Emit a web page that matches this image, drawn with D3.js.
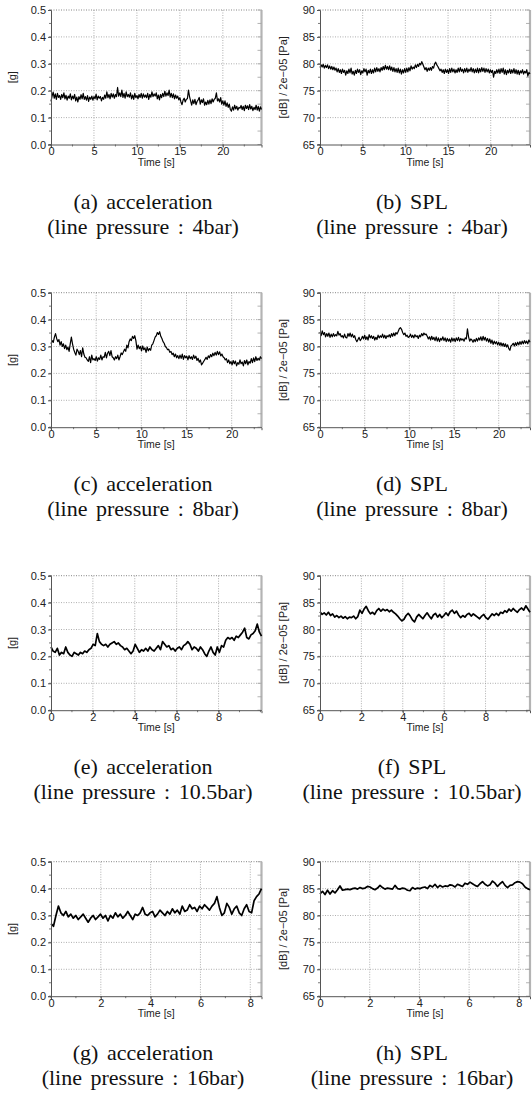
<!DOCTYPE html>
<html><head><meta charset="utf-8">
<script src="https://cdn.jsdelivr.net/npm/d3@7"></script>
<style>body{margin:0;background:#fff}svg{display:block}</style>
</head><body><svg id="c" width="532" height="1108"></svg>
<script>
// ---------------- data ----------------
const accel4 = [0.16,0.18,0.195,0.172,0.188,0.168,0.19,0.175,0.182,
 0.168,0.186,0.174,0.192,0.17,0.183,0.165,0.18,
 0.172,0.188,0.166,0.18,0.17,0.186,0.162,0.176,
 0.158,0.178,0.168,0.185,0.17,0.19,0.168,0.178,
 0.165,0.182,0.16,0.176,0.168,0.18,0.165,0.178,
 0.17,0.187,0.166,0.18,0.172,0.178,0.162,0.175,
 0.168,0.184,0.172,0.196,0.174,0.186,0.17,0.19,
 0.176,0.188,0.172,0.186,0.178,0.212,0.18,0.192,
 0.178,0.202,0.175,0.19,0.172,0.196,0.178,0.186,
 0.176,0.192,0.17,0.184,0.168,0.19,0.174,0.182,
 0.17,0.186,0.175,0.19,0.172,0.188,0.176,0.184,
 0.174,0.19,0.168,0.186,0.176,0.196,0.178,0.188,
 0.18,0.192,0.17,0.184,0.166,0.186,0.174,0.19,
 0.178,0.198,0.18,0.192,0.182,0.202,0.176,0.19,
 0.174,0.188,0.17,0.184,0.172,0.18,0.166,0.174,
 0.158,0.148,0.165,0.172,0.158,0.168,0.17,0.202,
 0.178,0.162,0.146,0.166,0.152,0.168,0.148,0.16,
 0.166,0.175,0.15,0.166,0.156,0.17,0.146,0.158,
 0.148,0.164,0.15,0.166,0.152,0.17,0.158,0.168,
 0.172,0.192,0.162,0.17,0.158,0.174,0.15,0.162,
 0.146,0.162,0.142,0.155,0.138,0.15,0.13,0.124,
 0.14,0.128,0.146,0.132,0.142,0.128,0.138,0.135,
 0.145,0.13,0.142,0.126,0.146,0.134,0.144,0.13,
 0.148,0.132,0.142,0.126,0.138,0.13,0.146,0.128,
 0.142,0.124,0.14,0.13];
const spl4 = [79.3,79.8,79.4,79.9,79.2,79.7,79.3,79.8,79.1,
 79.6,79.0,79.5,78.9,79.4,78.8,79.2,78.5,
 79.1,78.4,78.9,78.2,79.0,78.4,78.8,77.9,
 78.7,78.2,79.0,78.3,79.2,78.1,78.6,77.9,
 78.8,78.2,79.0,78.4,78.9,78.0,78.7,78.3,
 79.1,78.5,79.0,77.9,78.8,78.3,79.0,78.2,
 78.9,78.3,79.2,78.5,79.3,78.6,79.1,78.5,
 79.3,78.8,79.5,78.9,79.7,79.0,79.5,78.9,
 79.6,78.8,79.4,78.6,79.3,78.5,79.1,78.4,
 79.2,78.3,79.0,78.1,78.9,78.3,79.1,78.4,
 79.2,78.5,79.3,78.7,79.6,79.0,79.4,79.1,
 79.8,79.3,79.9,79.5,80.1,79.8,80.4,79.9,
 79.4,78.9,79.3,78.6,79.2,78.8,79.3,78.8,
 79.5,79.2,80.0,80.3,79.8,79.5,79.1,78.7,
 79.0,78.4,78.9,78.2,79.0,78.4,78.9,78.2,
 79.1,78.4,79.2,78.5,79.0,78.3,78.9,78.4,
 79.2,78.5,79.3,78.6,79.0,78.3,79.1,78.5,
 79.2,78.4,79.0,78.6,79.3,78.5,79.1,78.3,
 79.0,78.4,79.2,78.3,79.1,78.5,79.3,78.6,
 79.2,78.4,79.1,78.5,79.0,78.3,78.9,78.4,
 78.8,77.5,78.6,78.2,78.9,78.3,79.0,78.2,
 79.1,78.4,79.2,78.1,78.9,78.0,78.8,78.3,
 79.0,78.2,78.9,78.3,79.1,78.2,78.9,78.1,
 78.8,78.0,78.7,78.3,78.9,78.1,78.6,78.3,
 78.9,77.7,78.4,78.1];
const accel8 = [0.31,0.322,0.315,0.335,0.348,0.33,0.318,0.326,0.305,
 0.318,0.3,0.31,0.292,0.305,0.288,0.298,0.282,
 0.31,0.335,0.31,0.29,0.278,0.268,0.29,0.282,
 0.27,0.285,0.262,0.295,0.272,0.26,0.258,0.25,
 0.245,0.262,0.24,0.268,0.25,0.255,0.248,0.262,
 0.246,0.258,0.252,0.268,0.25,0.262,0.26,0.278,
 0.258,0.275,0.282,0.266,0.285,0.262,0.258,0.25,
 0.262,0.255,0.268,0.25,0.262,0.276,0.27,0.28,
 0.29,0.282,0.305,0.295,0.318,0.328,0.322,0.338,
 0.33,0.34,0.322,0.29,0.305,0.292,0.3,0.284,
 0.302,0.288,0.295,0.278,0.298,0.284,0.292,0.286,
 0.305,0.31,0.322,0.335,0.34,0.352,0.345,0.355,
 0.338,0.33,0.318,0.312,0.3,0.296,0.288,0.29,
 0.278,0.282,0.27,0.275,0.262,0.272,0.258,0.266,
 0.255,0.268,0.256,0.272,0.252,0.266,0.258,0.264,
 0.25,0.266,0.255,0.262,0.252,0.268,0.256,0.264,
 0.248,0.256,0.242,0.25,0.232,0.238,0.245,0.252,
 0.26,0.252,0.265,0.258,0.27,0.262,0.275,0.266,
 0.278,0.268,0.282,0.27,0.28,0.265,0.272,0.262,
 0.258,0.25,0.255,0.24,0.25,0.236,0.244,0.232,
 0.248,0.236,0.246,0.228,0.24,0.234,0.25,0.236,
 0.242,0.228,0.248,0.236,0.25,0.232,0.244,0.238,
 0.255,0.24,0.258,0.244,0.262,0.248,0.256,0.25,
 0.262,0.255];
const spl8 = [82.7,82.0,82.9,82.2,82.6,81.8,82.4,81.9,82.5,
 81.7,82.3,81.8,82.4,81.9,82.2,82.0,82.8,
 82.1,82.4,81.8,82.0,81.6,82.3,81.7,81.6,
 82.4,81.9,82.5,81.8,82.3,81.7,82.0,81.3,
 80.9,81.3,81.7,81.1,81.4,81.9,81.4,82.1,
 81.3,81.8,81.2,82.2,81.6,82.0,81.5,81.9,
 81.2,81.7,81.3,82.1,81.6,82.0,81.7,82.3,
 81.6,82.1,81.5,82.0,81.8,82.2,81.7,82.4,
 81.9,82.5,82.0,82.6,82.3,82.8,83.3,83.5,
 83.2,82.6,82.2,82.5,81.9,82.1,81.7,81.8,
 82.3,81.7,82.1,81.6,82.2,81.8,82.0,81.5,
 82.1,81.8,82.4,82.0,82.5,82.2,82.3,81.9,
 81.4,81.8,81.2,81.9,81.3,81.7,81.1,81.8,
 81.0,81.6,80.9,81.5,81.2,81.8,81.1,81.6,
 80.9,81.5,81.0,81.4,80.8,81.6,81.0,81.5,
 80.9,81.6,81.1,81.7,81.0,81.5,81.2,81.4,
 81.0,81.6,81.4,83.3,81.8,81.0,81.4,81.2,
 80.8,81.3,80.9,81.5,81.0,81.6,81.2,81.8,
 81.1,81.9,81.2,81.7,81.0,81.5,80.8,81.4,
 80.6,81.2,80.4,81.0,80.5,80.9,80.3,80.8,
 80.2,80.7,80.1,80.6,80.0,80.5,79.9,80.3,
 79.6,79.3,80.1,80.3,80.6,80.1,80.7,80.2,
 80.8,80.3,80.9,80.4,81.0,80.5,81.1,80.6,
 81.0,80.5,81.2,80.8];
const accel105 = [0.235,0.22,0.215,0.23,0.205,0.215,0.21,0.235,0.215,0.205,0.2,0.215,0.21,0.205,0.215,0.21,0.22,0.215,0.225,0.23,0.245,0.24,0.285,0.255,0.245,0.24,0.245,0.235,0.245,0.25,0.255,0.245,0.25,0.24,0.235,0.225,0.23,0.22,0.21,0.22,0.245,0.23,0.215,0.225,0.22,0.23,0.22,0.235,0.225,0.22,0.23,0.24,0.225,0.255,0.245,0.235,0.24,0.225,0.23,0.22,0.23,0.235,0.225,0.24,0.245,0.255,0.245,0.225,0.235,0.23,0.22,0.235,0.225,0.21,0.2,0.22,0.235,0.215,0.205,0.235,0.215,0.24,0.235,0.26,0.27,0.265,0.27,0.26,0.275,0.27,0.28,0.29,0.305,0.27,0.265,0.28,0.285,0.295,0.32,0.29,0.275];
const spl105 = [83.3,82.8,83.1,82.7,83.2,82.6,82.9,82.3,82.6,82.2,82.5,82.1,82.4,82.0,82.3,82.2,82.5,82.0,82.4,83.6,83.0,83.8,84.3,83.5,82.9,83.2,82.8,83.5,83.9,83.4,83.8,83.5,83.7,83.3,83.6,83.2,82.9,82.5,82.0,81.6,81.9,82.6,83.0,82.5,81.8,81.4,82.3,82.8,82.4,82.0,82.6,83.1,82.5,82.0,82.7,83.0,82.3,82.8,82.2,82.6,83.1,82.6,83.3,83.6,83.0,83.4,82.7,82.2,82.6,82.3,82.8,83.0,82.5,82.9,82.6,82.3,82.0,82.5,82.8,82.2,81.9,82.4,82.9,82.6,83.0,82.6,83.2,83.0,83.5,83.2,83.8,83.4,83.9,83.5,83.2,83.7,84.0,83.6,84.4,83.8,83.2];
const accel16 = [0.27,0.26,0.3,0.335,0.31,0.3,0.315,0.295,0.305,0.29,0.3,0.285,0.295,0.305,0.29,0.275,0.29,0.3,0.285,0.295,0.305,0.29,0.3,0.28,0.3,0.29,0.31,0.295,0.305,0.29,0.3,0.315,0.3,0.285,0.305,0.3,0.31,0.33,0.305,0.3,0.31,0.315,0.295,0.305,0.32,0.31,0.3,0.315,0.305,0.325,0.31,0.32,0.305,0.335,0.315,0.32,0.34,0.325,0.33,0.315,0.335,0.325,0.34,0.33,0.32,0.335,0.345,0.37,0.33,0.3,0.31,0.345,0.33,0.305,0.325,0.335,0.31,0.3,0.325,0.34,0.315,0.31,0.355,0.37,0.38,0.4];
const spl16 = [84.0,84.5,83.9,84.7,84.0,84.6,84.2,84.8,85.5,84.7,84.8,84.9,84.8,85.0,85.1,84.9,85.2,85.0,85.1,85.4,85.3,85.0,84.8,85.1,85.6,85.2,84.9,85.1,85.0,84.9,85.6,85.0,84.9,85.1,85.0,84.7,84.6,85.2,84.9,85.1,85.0,85.2,85.3,85.0,85.6,85.3,85.8,85.2,85.6,85.3,85.5,85.4,85.7,85.6,85.3,85.8,85.6,85.4,86.0,85.8,86.2,85.9,85.6,85.4,85.9,86.3,85.8,85.5,85.7,86.4,86.0,85.4,85.9,86.3,85.6,85.2,85.6,85.7,86.1,86.3,86.2,85.9,85.3,85.0,84.8];

// record lengths [s]
const durations = [24.5, 24.6, 23.3, 23.5, 10.05, 10.15, 8.45, 8.45];
const accelTicks = [0, 0.1, 0.2, 0.3, 0.4, 0.5];
const splTicks = [65, 70, 75, 80, 85, 90];
const timeTicksLong = [0, 5, 10, 15, 20];
const timeTicksShort = [0, 2, 4, 6, 8];
const letters = ['a','b','c','d','e','f','g','h'];
const quantities = ['acceleration','SPL'];
const pressures = ['4bar','8bar','10.5bar','16bar'];
const yTitles = ['[g]', '[dB] / 2e\u221205 [Pa]'];
const xTitle = 'Time [s]';
const seriesList = [accel4, spl4, accel8, spl8, accel105, spl105, accel16, spl16];

// ---------------- layout ----------------
const svg = d3.select('#c');
const rowTops = [10, 292.7, 575.7, 861.7];
const plotH = 134.5;
const cols = [{left: 51, right: 261.5, center: 143, ytx: 13},
              {left: 320, right: 530, center: 412, ytx: 284}];
const sans = "Liberation Sans, Arial, sans-serif";
const serif = "Liberation Serif, Times New Roman, serif";

seriesList.forEach((vals, k) => {
  const row = Math.floor(k / 2), col = k % 2;
  const c = cols[col];
  const top = rowTops[row], bottom = top + plotH;
  const isAcc = col === 0;
  const yTicks = isAcc ? accelTicks : splTicks;
  const xTicks = row < 2 ? timeTicksLong : timeTicksShort;
  const dur = durations[k];
  const x = d3.scaleLinear().domain([0, dur]).range([c.left, c.right]);
  const y = d3.scaleLinear().domain([yTicks[0], yTicks[yTicks.length - 1]]).range([bottom, top]);
  const g = svg.append('g');

  const yStep = yTicks[1] - yTicks[0];
  const xStep = xTicks[1] - xTicks[0];
  const yMinor = d3.range(yTicks[0], yTicks[yTicks.length - 1] + 1e-9, yStep / 2);
  const xMinor = d3.range(0, dur, xStep / 2);

  // grid
  g.selectAll('.gx').data(xTicks.filter(t => t > 0)).enter().append('line')
    .attr('x1', d => x(d)).attr('x2', d => x(d)).attr('y1', top).attr('y2', bottom)
    .attr('stroke', '#9a9a9a').attr('stroke-width', 0.8).attr('stroke-dasharray', '1,1.5');
  g.selectAll('.gy').data(yTicks.slice(1)).enter().append('line')
    .attr('x1', c.left).attr('x2', c.right).attr('y1', d => y(d)).attr('y2', d => y(d))
    .attr('stroke', d => d === yTicks[yTicks.length - 1] ? '#666' : '#9a9a9a')
    .attr('stroke-width', 0.8).attr('stroke-dasharray', '1,1.5');

  // right gray axis with inward ticks
  g.append('line').attr('x1', c.right).attr('x2', c.right).attr('y1', top).attr('y2', bottom)
    .attr('stroke', '#b4b4b4').attr('stroke-width', 2.2);
  g.selectAll('.rt').data(yMinor).enter().append('line')
    .attr('x1', c.right - 4).attr('x2', c.right).attr('y1', d => y(d)).attr('y2', d => y(d))
    .attr('stroke', '#a0a0a0').attr('stroke-width', 0.8);

  // data line
  const line = d3.line().x((d, i) => x(i * dur / (vals.length - 1))).y(d => y(d));
  g.append('path').datum(vals).attr('d', line).attr('fill', 'none')
    .attr('stroke', '#000').attr('stroke-width', row >= 2 ? 1.7 : 1.2).attr('stroke-linejoin', 'round');

  // left axis
  const ax = g.append('g').attr('transform', `translate(${c.left},0)`)
    .call(d3.axisLeft(y).tickValues(yTicks).tickSize(3).tickPadding(2)
      .tickFormat(isAcc ? d3.format('.1f') : d3.format('d')));
  g.selectAll('.lm').data(yMinor).enter().append('line')
    .attr('x1', c.left - 2).attr('x2', c.left).attr('y1', d => y(d)).attr('y2', d => y(d))
    .attr('stroke', '#555').attr('stroke-width', 0.8);

  // bottom axis
  const bx = g.append('g').attr('transform', `translate(0,${bottom})`)
    .call(d3.axisBottom(x).tickValues(xTicks).tickSize(3).tickPadding(0).tickFormat(d3.format('d')));
  g.selectAll('.bm').data(xMinor).enter().append('line')
    .attr('x1', d => x(d)).attr('x2', d => x(d)).attr('y1', bottom).attr('y2', bottom + 2)
    .attr('stroke', '#555').attr('stroke-width', 0.8);

  [ax, bx].forEach(a => {
    a.select('.domain').attr('stroke', '#555').attr('stroke-width', 1);
    a.selectAll('.tick line').attr('stroke', '#555');
    a.selectAll('text').attr('font-family', sans).attr('font-size', 11).attr('fill', '#222');
  });

  // axis titles
  g.append('text').attr('x', (c.left + c.right) / 2).attr('y', bottom + 21)
    .attr('text-anchor', 'middle').attr('font-family', sans).attr('font-size', 10.5)
    .attr('fill', '#222').text(xTitle);
  g.append('text').attr('transform', `translate(${c.ytx},${(top + bottom) / 2}) rotate(-90)`)
    .attr('text-anchor', 'middle').attr('dominant-baseline', 'middle')
    .attr('font-family', sans).attr('font-size', 11).attr('fill', '#222').text(yTitles[col]);

  // captions
  const cap = g.append('text').attr('text-anchor', 'middle').attr('font-family', serif)
    .attr('font-size', 22).attr('fill', '#111').attr('word-spacing', 3);
  cap.append('tspan').attr('x', c.center).attr('y', bottom + 64)
    .text(`(${letters[k]})  ${quantities[col]}`);
  cap.append('tspan').attr('x', c.center).attr('y', bottom + 89)
    .text(`(line pressure : ${pressures[row]})`);
});
</script>
</body></html>
